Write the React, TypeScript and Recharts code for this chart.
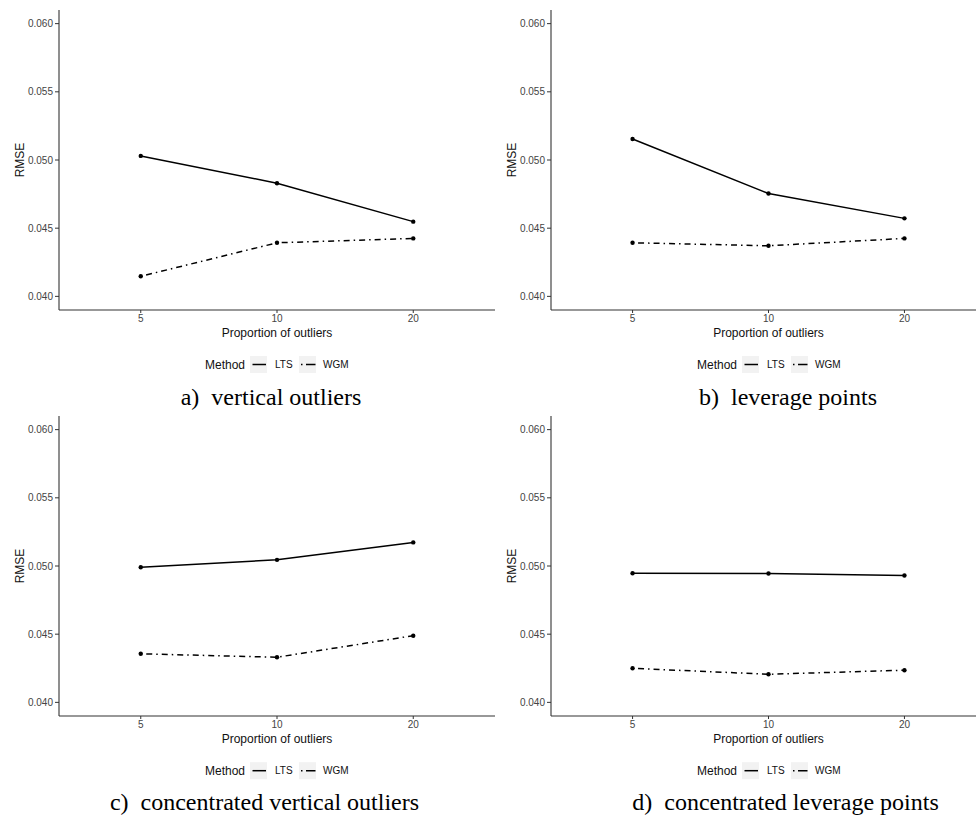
import React from 'react';
import { LineChart, Line, XAxis, YAxis } from 'recharts';

const categories = ['5', '10', '20'];
const yTicks = [0.04, 0.045, 0.05, 0.055, 0.06];

const ltsVertical = [0.0503, 0.0483, 0.04548];
const wgmVertical = [0.04147, 0.04393, 0.04425];
const ltsLeverage = [0.05154, 0.04754, 0.04572];
const wgmLeverage = [0.04393, 0.04371, 0.04425];
const ltsConcVertical = [0.04991, 0.05045, 0.05173];
const wgmConcVertical = [0.04356, 0.04331, 0.04489];
const ltsConcLeverage = [0.04947, 0.04945, 0.0493];
const wgmConcLeverage = [0.0425, 0.04206, 0.04236];

const captions = [
  'a)\u00a0\u00a0vertical outliers',
  'b)\u00a0\u00a0leverage points',
  'c)\u00a0\u00a0concentrated vertical outliers',
  'd)\u00a0\u00a0concentrated leverage points',
];

const SANS = '"Liberation Sans", Arial, sans-serif';
const SERIF = '"Liberation Serif", "Times New Roman", serif';
const DOTDASH = '1.5 4 6 4';

const xLabel = (props: any) => {
  const vb = props.viewBox;
  return (
    <text
      x={vb.x + vb.width / 2}
      y={vb.y + 23}
      textAnchor="middle"
      dominantBaseline="central"
      fontSize={12}
      fontFamily={SANS}
      fill="#111"
    >
      Proportion of outliers
    </text>
  );
};

const yLabel = (props: any) => {
  const vb = props.viewBox;
  const cx = vb.x + vb.width - 39;
  const cy = vb.y + vb.height / 2;
  return (
    <text
      x={cx}
      y={cy}
      transform={`rotate(-90 ${cx} ${cy})`}
      textAnchor="middle"
      dominantBaseline="central"
      fontSize={12}
      fontFamily={SANS}
      fill="#111"
    >
      RMSE
    </text>
  );
};

type PanelProps = {
  left: number;
  top: number;
  width: number;
  yAxisWidth: number;
  lts: number[];
  wgm: number[];
};

function Panel({ left, top, width, yAxisWidth, lts, wgm }: PanelProps) {
  const data = categories.map((c, i) => ({ x: i, cat: c, LTS: lts[i], WGM: wgm[i] }));
  return (
    <div style={{ position: 'absolute', left, top }}>
      <LineChart
        width={width}
        height={410}
        data={data}
        margin={{ top: 10, right: 0, bottom: 70, left: 0 }}
      >
        <XAxis
          type="number"
          dataKey="x"
          domain={[-0.6, 2.6]}
          ticks={[0, 1, 2]}
          tickFormatter={(v: number) => categories[v]}
          height={30}
          tickSize={3}
          tickMargin={2}
          axisLine={{ stroke: '#333', strokeWidth: 1.1 }}
          tickLine={{ stroke: '#333' }}
          tick={{ fontSize: 10, fill: '#444', fontFamily: SANS }}
          label={{ content: xLabel }}
        />
        <YAxis
          type="number"
          domain={[0.039, 0.061]}
          ticks={yTicks}
          allowDataOverflow
          tickFormatter={(v: number) => v.toFixed(3)}
          width={yAxisWidth}
          tickSize={4}
          tickMargin={2}
          axisLine={{ stroke: '#333', strokeWidth: 1.1 }}
          tickLine={{ stroke: '#333' }}
          tick={{ fontSize: 10, fill: '#444', fontFamily: SANS }}
          label={{ content: yLabel }}
        />
        <Line
          type="linear"
          dataKey="LTS"
          stroke="#000"
          strokeWidth={1.5}
          dot={{ r: 2.2, fill: '#000', stroke: 'none' }}
          activeDot={false}
          isAnimationActive={false}
        />
        <Line
          type="linear"
          dataKey="WGM"
          stroke="#000"
          strokeWidth={1.5}
          strokeDasharray={DOTDASH}
          dot={{ r: 2.2, fill: '#000', stroke: 'none', strokeDasharray: '' }}
          activeDot={false}
          isAnimationActive={false}
        />
      </LineChart>
    </div>
  );
}

function LegendRow({ dx, yc }: { dx: number; yc: number }) {
  return (
    <g>
      <text x={205 + dx} y={yc} dominantBaseline="central" fontSize={12} fontFamily={SANS} fill="#111">
        Method
      </text>
      <rect x={250 + dx} y={yc - 8.5} width={17} height={17} fill="#f2f2f2" />
      <line x1={252.5 + dx} x2={266 + dx} y1={yc} y2={yc} stroke="#000" strokeWidth={1.5} />
      <text x={275 + dx} y={yc} dominantBaseline="central" fontSize={10} fontFamily={SANS} fill="#111">
        LTS
      </text>
      <rect x={299 + dx} y={yc - 8.5} width={17} height={17} fill="#f2f2f2" />
      <line
        x1={301 + dx}
        x2={315.5 + dx}
        y1={yc}
        y2={yc}
        stroke="#000"
        strokeWidth={1.5}
        strokeDasharray="1.5 3.5 9.5 4"
      />
      <text x={323 + dx} y={yc} dominantBaseline="central" fontSize={10} fontFamily={SANS} fill="#111">
        WGM
      </text>
    </g>
  );
}

export default function App() {
  return (
    <div
      style={{
        position: 'absolute',
        left: 0,
        top: 0,
        width: 976,
        height: 816,
        overflow: 'hidden',
        background: '#fff',
      }}
    >
      <Panel left={0} top={0} width={495} yAxisWidth={59} lts={ltsVertical} wgm={wgmVertical} />
      <Panel left={480} top={0} width={506} yAxisWidth={71} lts={ltsLeverage} wgm={wgmLeverage} />
      <Panel left={0} top={406} width={495} yAxisWidth={59} lts={ltsConcVertical} wgm={wgmConcVertical} />
      <Panel left={480} top={406} width={506} yAxisWidth={71} lts={ltsConcLeverage} wgm={wgmConcLeverage} />
      <svg
        width={976}
        height={816}
        style={{ position: 'absolute', left: 0, top: 0, pointerEvents: 'none' }}
      >
        <LegendRow dx={0} yc={364.5} />
        <LegendRow dx={492} yc={364.5} />
        <LegendRow dx={0} yc={770.7} />
        <LegendRow dx={492} yc={770.7} />
        <g fontFamily={SERIF} fontSize={24} fill="#000" textAnchor="middle">
          <text x={271} y={404.5}>{captions[0]}</text>
          <text x={788} y={404.5}>{captions[1]}</text>
          <text x={264.5} y={810}>{captions[2]}</text>
          <text x={785.5} y={810}>{captions[3]}</text>
        </g>
      </svg>
    </div>
  );
}
